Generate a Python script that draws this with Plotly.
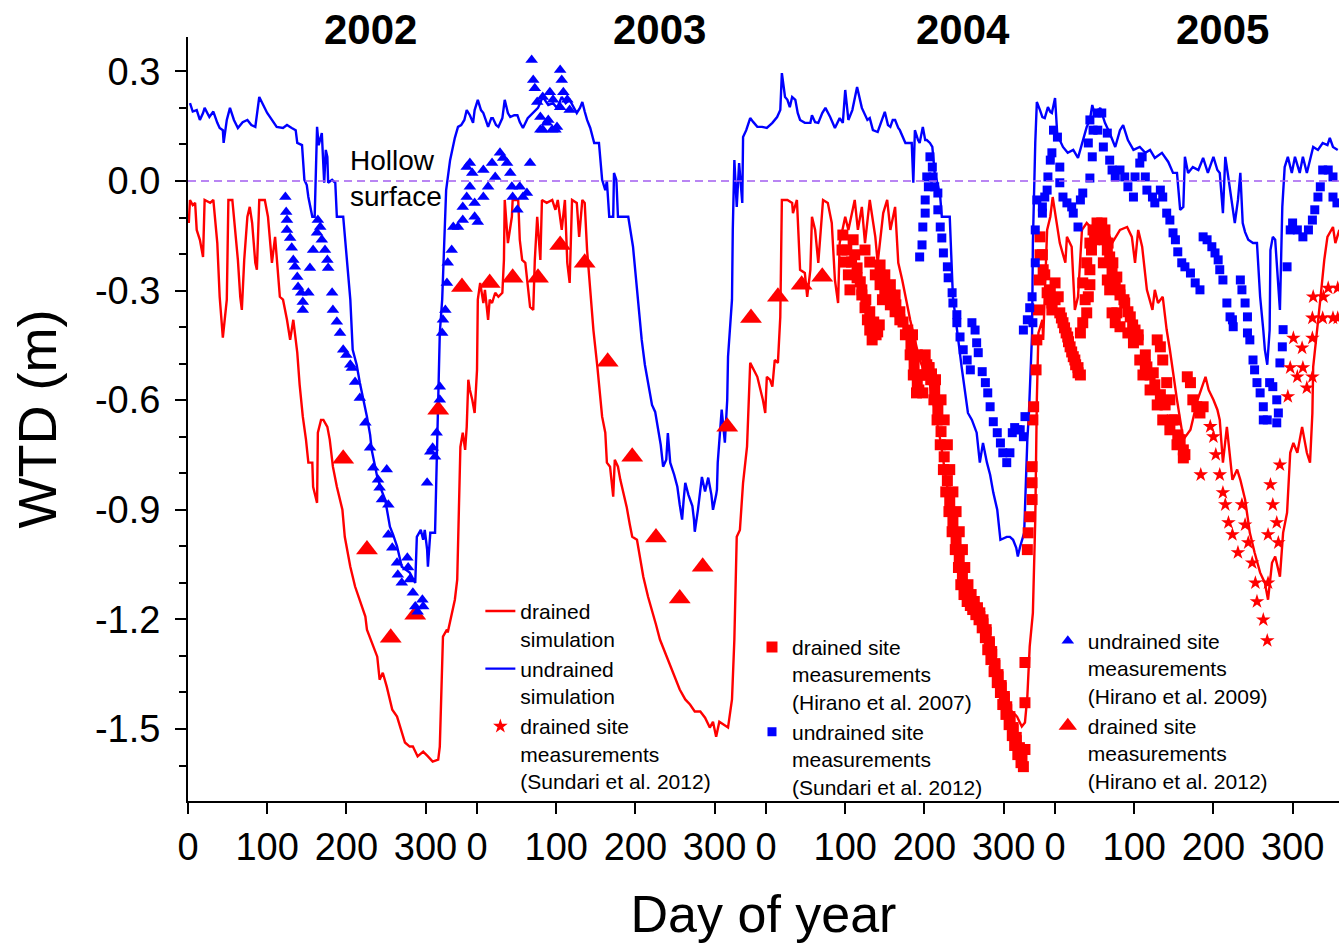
import plotly.graph_objects as go

# ---------------- data (continuous day since 1 Jan 2002, WTD in m) ----------------
year_labels = ["2002", "2003", "2004", "2005"]
year_start_day = [0, 365, 730, 1095]
doy_ticks = [0, 100, 200, 300]
wtd_ticks = [0.3, 0.0, -0.3, -0.6, -0.9, -1.2, -1.5]

undrained_sim = [
    (2.5, 0.213), (6, 0.19), (11, 0.194), (15, 0.167), (19, 0.186), (21, 0.2), (27, 0.175), (32, 0.19),
    (37, 0.159), (40, 0.145), (44, 0.139), (45, 0.104), (49, 0.167), (53, 0.2), (58, 0.167), (63, 0.145),
    (69, 0.161), (75, 0.167), (80, 0.153), (85, 0.148), (90, 0.23), (95, 0.208), (100, 0.186), (106, 0.167),
    (112, 0.148), (120, 0.145), (125, 0.153), (131, 0.145), (136, 0.139), (138, 0.104), (144, 0.098),
    (147, 0.003), (150, -0.011), (152, -0.044), (157, -0.098), (160, -0.098), (163, 0.148), (165, 0.098),
    (167, 0.112), (169, 0.131), (172, -0.005), (174, 0.085), (176, 0.066), (177, -0.005), (182, 0.003),
    (186, -0.005), (188, -0.098), (196, -0.098), (201, -0.224), (205, -0.325), (208, -0.462), (213, -0.503),
    (217, -0.552), (222, -0.599), (226, -0.645), (230, -0.695), (232, -0.736), (239, -0.81), (244, -0.845),
    (249, -0.872), (255, -0.946), (259, -0.968), (264, -1.0), (270, -1.056), (275, -1.064), (280, -1.072),
    (287, -1.1), (289, -0.974), (294, -0.955), (297, -0.982), (299, -0.955), (302, -1.009), (303, -1.056),
    (306, -0.963), (312, -0.963), (314, -0.782), (316, -0.599), (318, -0.416), (321, -0.325), (323, -0.189),
    (326, -0.025), (331, 0.057), (335, 0.104), (337, 0.118), (341, 0.148), (345, 0.153), (349, 0.167),
    (352, 0.194), (356, 0.18), (360, 0.159), (362, 0.194), (366, 0.222),
    (370, 0.194), (373, 0.186), (376, 0.167), (379, 0.148), (383, 0.172), (385, 0.172), (389, 0.153),
    (392, 0.148), (397, 0.172), (400, 0.222), (404, 0.186), (407, 0.175), (412, 0.18), (416, 0.18),
    (419, 0.161), (423, 0.145), (429, 0.172), (436, 0.186), (442, 0.2), (448, 0.23), (455, 0.208),
    (461, 0.213), (466, 0.2), (472, 0.23), (477, 0.213), (482, 0.222), (488, 0.2), (491, 0.186), (495, 0.2),
    (498, 0.216), (501, 0.19), (504, 0.167), (508, 0.145), (510, 0.126), (513, 0.104), (519, 0.104),
    (523, 0.003), (527, -0.025), (529, 0.0), (532, -0.098), (537, -0.098), (538, 0.022), (541, 0.003),
    (543, -0.098), (551, -0.098), (556, -0.098), (562, -0.18), (566, -0.271), (570, -0.353), (573, -0.435),
    (577, -0.503), (581, -0.552), (586, -0.613), (590, -0.632), (594, -0.681), (597, -0.722), (600, -0.782),
    (604, -0.763), (606, -0.69), (609, -0.771), (614, -0.804), (618, -0.837), (621, -0.886), (624, -0.927),
    (626, -0.872), (628, -0.826), (632, -0.859), (634, -0.872), (637, -0.89), (639, -0.927), (640, -0.96),
    (644, -0.9), (649, -0.81), (653, -0.85), (657, -0.812), (661, -0.859), (663, -0.9), (667, -0.859),
    (668, -0.845), (669, -0.771), (672, -0.681), (674, -0.626), (678, -0.716), (681, -0.599), (682, -0.481),
    (685, -0.38), (687, -0.325), (688, -0.134), (690, 0.057), (693, -0.071), (696, 0.049), (700, -0.06),
    (701, 0.12), (705, 0.139), (710, 0.172), (714, 0.161), (719, 0.148), (725, 0.148), (731, 0.145),
    (738, 0.159), (741, 0.167), (744, 0.175), (748, 0.194), (750, 0.295), (754, 0.23), (757, 0.222),
    (760, 0.202), (763, 0.23), (767, 0.222), (770, 0.186), (773, 0.167), (779, 0.159), (786, 0.159),
    (788, 0.18), (792, 0.161), (796, 0.159), (801, 0.186), (805, 0.2), (811, 0.175), (817, 0.145),
    (823, 0.172), (827, 0.159), (830, 0.249), (834, 0.167), (839, 0.194), (845, 0.257), (851, 0.2),
    (855, 0.18), (858, 0.167), (861, 0.172), (865, 0.139), (871, 0.134), (877, 0.172), (880, 0.189),
    (884, 0.153), (887, 0.148), (890, 0.167), (893, 0.167), (897, 0.145), (899, 0.139), (906, 0.104),
    (914, 0.104), (916, -0.005), (918, 0.139), (922, 0.112), (924, 0.104), (928, 0.148), (931, 0.112),
    (933, 0.112), (937, 0.104), (940, 0.093), (943, 0.022), (947, -0.011), (950, -0.044), (952, -0.098),
    (962, -0.098), (966, -0.317), (971, -0.408), (977, -0.509), (981, -0.572), (985, -0.635), (990, -0.654),
    (996, -0.689), (1000, -0.771), (1004, -0.717), (1009, -0.771), (1013, -0.804), (1017, -0.853),
    (1022, -0.9), (1026, -0.982), (1031, -0.976), (1034, -0.974), (1038, -0.974), (1042, -0.982),
    (1046, -1.004), (1048, -1.028), (1051, -1.0), (1056, -0.963), (1060, -0.708), (1062, -0.635),
    (1066, -0.416), (1067, -0.17), (1070, 0.104), (1072, 0.216), (1076, 0.194), (1079, 0.175), (1082, 0.172),
    (1086, 0.202), (1089, 0.189), (1091, 0.186), (1095, 0.227),
    (1098, 0.12), (1101, 0.112), (1105, 0.093), (1111, 0.077), (1118, 0.085), (1124, 0.063), (1130, 0.112),
    (1135, 0.148), (1139, 0.167), (1142, 0.208), (1146, 0.175), (1152, 0.2), (1158, 0.159), (1164, 0.131),
    (1171, 0.093), (1177, 0.139), (1181, 0.153), (1187, 0.112), (1194, 0.085), (1202, 0.093), (1209, 0.077),
    (1215, 0.085), (1221, 0.063), (1230, 0.077), (1238, 0.052), (1244, 0.022), (1249, 0.022), (1253, -0.079),
    (1257, -0.071), (1259, 0.066), (1263, 0.022), (1269, 0.038), (1276, 0.03), (1282, 0.063), (1288, 0.022),
    (1295, 0.066), (1300, 0.03), (1303, 0.022), (1307, -0.088), (1310, 0.066), (1313, 0.022), (1319, -0.079),
    (1322, -0.115), (1326, -0.052), (1329, 0.022), (1332, -0.115), (1335, -0.14), (1339, -0.161),
    (1345, -0.17), (1350, -0.17), (1354, -0.317), (1358, -0.408), (1360, -0.462), (1363, -0.503),
    (1366, -0.408), (1367, -0.189), (1370, -0.153), (1373, -0.161), (1375, -0.224), (1379, -0.353),
    (1382, -0.071), (1385, 0.038), (1389, 0.066), (1394, 0.022), (1398, 0.066), (1404, 0.022), (1408, 0.066),
    (1413, 0.022), (1421, 0.093), (1427, 0.085), (1433, 0.104), (1439, 0.098), (1442, 0.118), (1446, 0.093),
    (1452, 0.085),
]

drained_sim = [
    (0, -0.093), (1, -0.115), (2.5, -0.052), (6, -0.066), (9, -0.06), (11, -0.134), (15, -0.161),
    (19, -0.208), (21, -0.052), (28, -0.06), (32, -0.052), (37, -0.17), (40, -0.317), (44, -0.429),
    (49, -0.325), (51, -0.052), (56, -0.052), (59, -0.115), (63, -0.216), (66, -0.317), (68, -0.353),
    (71, -0.216), (75, -0.098), (78, -0.071), (81, -0.115), (85, -0.224), (87, -0.243), (90, -0.052),
    (97, -0.052), (101, -0.098), (106, -0.224), (110, -0.153), (114, -0.252), (116, -0.317), (120, -0.325),
    (125, -0.38), (129, -0.435), (133, -0.38), (138, -0.47), (141, -0.558), (145, -0.645), (149, -0.708),
    (152, -0.771), (157, -0.771), (158, -0.837), (163, -0.881), (164, -0.689), (168, -0.654), (171, -0.654),
    (176, -0.673), (179, -0.708), (183, -0.782), (188, -0.837), (195, -0.9), (198, -0.974), (205, -1.056),
    (211, -1.11), (217, -1.146), (224, -1.192), (226, -1.228), (232, -1.264), (239, -1.302), (242, -1.365),
    (246, -1.346), (251, -1.384), (258, -1.447), (264, -1.466), (268, -1.493), (274, -1.537), (280, -1.548),
    (284, -1.548), (290, -1.575), (297, -1.562), (303, -1.575), (309, -1.589), (316, -1.584), (318, -1.548),
    (322, -1.247), (327, -1.228), (328, -1.236), (333, -1.182), (337, -1.146), (340, -1.091), (344, -0.728),
    (347, -0.689), (350, -0.736), (352, -0.673), (354, -0.544), (356, -0.572), (359, -0.599), (362, -0.635),
    (365, -0.517), (366, -0.325),
    (369, -0.279), (373, -0.334), (375, -0.298), (379, -0.38), (381, -0.325), (384, -0.334), (388, -0.306),
    (392, -0.317), (397, -0.306), (399, -0.216), (400, -0.052), (404, -0.17), (407, -0.12), (409, -0.098),
    (410, -0.052), (417, -0.052), (419, -0.161), (422, -0.216), (426, -0.224), (432, -0.345), (436, -0.353),
    (438, -0.216), (441, -0.098), (445, -0.216), (447, -0.052), (453, -0.06), (460, -0.052), (464, -0.079),
    (467, -0.052), (472, -0.134), (476, -0.052), (479, -0.224), (482, -0.279), (485, -0.052), (491, -0.06),
    (494, -0.153), (498, -0.052), (501, -0.06), (504, -0.189), (508, -0.298), (512, -0.408), (517, -0.509),
    (520, -0.585), (523, -0.645), (527, -0.689), (529, -0.771), (533, -0.782), (537, -0.864), (539, -0.763),
    (543, -0.782), (546, -0.818), (549, -0.845), (554, -0.892), (558, -0.941), (561, -0.974), (567, -0.982),
    (571, -1.037), (575, -1.083), (581, -1.138), (586, -1.173), (591, -1.214), (596, -1.255), (602, -1.288),
    (609, -1.324), (615, -1.357), (621, -1.392), (628, -1.419), (634, -1.433), (640, -1.452), (647, -1.452),
    (653, -1.469), (659, -1.496), (663, -1.48), (667, -1.521), (671, -1.48), (676, -1.488), (682, -1.496),
    (687, -1.419), (690, -1.255), (693, -0.974), (697, -0.955), (701, -0.826), (706, -0.727), (710, -0.498),
    (714, -0.517), (719, -0.536), (722, -0.563), (726, -0.599), (729, -0.635), (731, -0.536), (735, -0.544),
    (738, -0.563), (741, -0.49), (745, -0.498), (748, -0.372), (750, -0.052), (757, -0.052), (763, -0.06),
    (764, -0.088), (769, -0.052), (773, -0.243), (779, -0.252), (782, -0.317), (786, -0.243), (788, -0.098),
    (792, -0.134), (796, -0.224), (802, -0.052), (808, -0.06), (813, -0.115), (817, -0.271), (821, -0.334),
    (823, -0.17), (830, -0.098), (834, -0.134), (842, -0.052), (846, -0.134), (851, -0.071), (855, -0.17),
    (861, -0.052), (868, -0.153), (871, -0.224), (878, -0.088), (883, -0.052), (887, -0.134), (893, -0.071),
    (897, -0.224), (902, -0.271), (912, -0.38), (924, -0.49), (937, -0.558), (950, -0.708), (962, -0.886),
    (975, -1.064), (988, -1.146), (1000, -1.187), (1013, -1.283), (1026, -1.378), (1038, -1.447),
    (1047, -1.466), (1053, -1.493), (1057, -1.482), (1060, -1.411), (1063, -1.274), (1067, -1.182),
    (1070, -0.927), (1072, -0.599), (1074, -0.416), (1079, -0.38), (1080, -0.435), (1085, -0.134),
    (1089, -0.098), (1092, -0.044),
    (1098, -0.126), (1101, -0.17), (1108, -0.224), (1110, -0.153), (1116, -0.18), (1120, -0.353),
    (1124, -0.317), (1129, -0.134), (1135, -0.115), (1143, -0.134), (1149, -0.17), (1158, -0.115),
    (1167, -0.17), (1177, -0.134), (1186, -0.126), (1192, -0.153), (1196, -0.224), (1200, -0.134),
    (1205, -0.18), (1211, -0.298), (1218, -0.353), (1221, -0.298), (1225, -0.334), (1231, -0.317),
    (1236, -0.408), (1240, -0.462), (1249, -0.599), (1257, -0.708), (1266, -0.681), (1275, -0.599),
    (1285, -0.536), (1289, -0.572), (1295, -0.599), (1300, -0.626), (1303, -0.654), (1307, -0.771),
    (1312, -0.673), (1319, -0.818), (1325, -0.79), (1329, -0.818), (1335, -0.872), (1341, -0.963),
    (1347, -1.017), (1354, -1.072), (1360, -1.1), (1364, -1.146), (1369, -1.045), (1373, -1.028),
    (1379, -1.083), (1383, -0.963), (1388, -0.908), (1392, -0.744), (1396, -0.717), (1401, -0.744),
    (1407, -0.673), (1413, -0.744), (1417, -0.771), (1420, -0.635), (1421, -0.509), (1426, -0.416),
    (1430, -0.325), (1435, -0.216), (1439, -0.153), (1446, -0.126), (1449, -0.17), (1454, -0.134),
]

# drained site measurements, Hirano et al. 2012 (large red triangles)
hirano2012_drained = [
    (196, -0.76), (226, -1.009), (256, -1.25), (287, -1.187), (316, -0.626), (346, -0.29), (381, -0.279),
    (410, -0.265), (442, -0.265), (470, -0.175), (501, -0.224), (530, -0.495), (561, -0.755), (591, -0.976),
    (621, -1.143), (650, -1.056), (681, -0.673), (711, -0.375), (745, -0.317), (775, -0.284), (801, -0.262),
]

# undrained site measurements, Hirano et al. 2009 (blue triangles)
hirano2009_undrained = [
    (123, -0.044), (124, -0.085), (125, -0.107), (125, -0.134), (129, -0.156), (131, -0.183), (133, -0.216),
    (135, -0.235), (138, -0.263), (139, -0.29), (143, -0.306), (145, -0.331), (145, -0.353), (152, -0.306),
    (154, -0.238), (158, -0.189), (163, -0.142), (164, -0.107), (167, -0.126), (169, -0.161), (173, -0.189),
    (176, -0.216), (177, -0.238), (182, -0.306), (183, -0.353), (188, -0.385), (192, -0.416), (196, -0.462),
    (200, -0.476), (205, -0.503), (207, -0.512), (211, -0.55), (217, -0.594), (224, -0.662), (230, -0.73),
    (234, -0.785), (240, -0.818), (242, -0.84), (245, -0.872), (251, -0.79), (253, -0.886), (253, -0.968),
    (258, -1.004), (264, -1.045), (265, -1.078), (270, -1.1), (277, -1.031), (278, -1.058), (280, -1.091),
    (284, -1.127), (287, -1.165), (290, -1.179), (296, -1.146), (297, -1.165), (302, -0.826), (306, -0.741),
    (309, -0.73), (312, -0.755), (314, -0.689), (318, -0.599), (318, -0.563), (321, -0.416), (322, -0.38),
    (325, -0.353), (327, -0.279), (328, -0.224), (333, -0.189), (335, -0.126), (341, -0.126), (347, -0.107),
    (347, -0.071), (352, -0.044), (356, -0.016), (352, 0.038), (356, 0.049), (359, 0.022), (362, -0.06),
    (362, -0.098), (366, -0.112), (373, -0.044), (373, 0.03), (379, -0.016), (384, 0.049), (388, 0.011),
    (394, 0.077), (398, 0.063), (403, 0.049), (407, 0.022), (409, -0.016), (410, -0.044), (416, -0.079),
    (419, -0.016), (423, -0.044), (428, -0.033), (432, 0.049), (434, 0.331), (436, 0.276), (438, 0.254),
    (441, 0.216), (445, 0.175), (445, 0.14), (448, 0.14), (448, 0.23), (453, 0.159), (455, 0.167),
    (457, 0.243), (460, 0.14), (461, 0.222), (464, 0.14), (466, 0.148), (470, 0.202), (470, 0.304),
    (472, 0.276), (474, 0.243), (479, 0.222), (482, 0.194),
]

# drained site measurements, Hirano et al. 2007 (red squares)
hirano2007_drained = [
    (826, -0.189), (830, -0.222), (834, -0.257), (836, -0.298), (840, -0.161), (842, -0.202), (845, -0.238),
    (849, -0.276), (851, -0.312), (855, -0.347), (858, -0.38), (861, -0.408), (864, -0.435), (869, -0.421),
    (873, -0.394), (855, -0.189), (861, -0.222), (868, -0.257), (874, -0.284), (880, -0.312), (887, -0.339),
    (893, -0.358), (899, -0.38), (906, -0.421), (874, -0.23), (880, -0.257), (887, -0.284), (893, -0.312),
    (827, -0.148), (832, -0.189), (838, -0.222), (845, -0.265), (851, -0.298), (856, -0.325), (861, -0.358),
    (866, -0.386), (871, -0.413), (877, -0.325), (882, -0.298), (887, -0.312), (894, -0.339), (899, -0.358),
    (903, -0.386), (909, -0.408),
    (912, -0.476), (916, -0.531), (920, -0.58), (923, -0.572), (927, -0.531), (931, -0.476), (935, -0.511),
    (938, -0.544), (942, -0.599), (946, -0.654), (950, -0.722), (954, -0.79), (957, -0.851), (961, -0.905),
    (965, -0.96), (969, -1.009), (973, -1.058), (976, -1.105), (980, -1.132), (984, -1.151), (988, -1.162),
    (991, -1.173), (995, -1.187), (999, -1.201), (1003, -1.223), (1007, -1.25), (1010, -1.283),
    (1014, -1.31), (1018, -1.343), (1022, -1.373), (1026, -1.4), (1029, -1.433), (1033, -1.46),
    (1037, -1.488), (1041, -1.518), (1044, -1.545), (1048, -1.57), (1052, -1.592), (1055, -1.603),
    (915, -0.421), (921, -0.476), (924, -0.531), (928, -0.58), (932, -0.531), (936, -0.511), (944, -0.544),
    (951, -0.599), (955, -0.654), (959, -0.722), (962, -0.79), (966, -0.851), (970, -0.905), (974, -0.96),
    (978, -1.009), (981, -1.058), (985, -1.105), (989, -1.132), (993, -1.151), (997, -1.168), (1000, -1.182),
    (1004, -1.201), (1008, -1.228), (1012, -1.261), (1015, -1.288), (1019, -1.321), (1023, -1.351),
    (1027, -1.381), (1031, -1.411), (1034, -1.439), (1038, -1.466), (1042, -1.496), (1046, -1.523),
    (1050, -1.551), (1053, -1.575), (1057, -1.556),
    (913, -0.449), (917, -0.503), (921, -0.555), (933, -0.503), (939, -0.528), (943, -0.572), (947, -0.626),
    (951, -0.686), (955, -0.755), (959, -0.82), (962, -0.878), (966, -0.933), (970, -0.985), (974, -1.034),
    (978, -1.08), (981, -1.119), (985, -1.14), (989, -1.157), (993, -1.168), (997, -1.179), (1000, -1.192),
    (1004, -1.212), (1008, -1.236), (1012, -1.266), (1015, -1.296), (1019, -1.326), (1023, -1.357),
    (1027, -1.387), (1031, -1.417), (1034, -1.447), (1038, -1.474), (1042, -1.502), (1046, -1.532),
    (1050, -1.556), (1053, -1.584),
    (1057, -1.428), (1057, -1.318), (1060, -1.009),
    (1061, -0.963), (1063, -0.919), (1066, -0.872), (1066, -0.826), (1066, -0.782), (1067, -0.654),
    (1068, -0.618), (1071, -0.517), (1072, -0.435), (1074, -0.353), (1075, -0.271), (1076, -0.202),
    (1076, -0.153),
    (1080, -0.243), (1085, -0.306), (1089, -0.325), (1091, -0.334), (1095, -0.279), (1099, -0.317),
    (1101, -0.361), (1105, -0.388), (1109, -0.416), (1111, -0.427), (1114, -0.454), (1118, -0.481),
    (1121, -0.503), (1124, -0.525), (1127, -0.416), (1130, -0.388), (1130, -0.279), (1135, -0.224),
    (1139, -0.17), (1143, -0.134), (1148, -0.115), (1154, -0.115), (1158, -0.134), (1162, -0.17),
    (1164, -0.208), (1168, -0.224), (1173, -0.263), (1177, -0.298), (1183, -0.334), (1190, -0.372),
    (1196, -0.408), (1137, -0.317), (1135, -0.361), (1139, -0.243), (1156, -0.224), (1161, -0.271),
    (1164, -0.298), (1167, -0.361), (1171, -0.388), (1173, -0.361), (1177, -0.399), (1187, -0.416),
    (1194, -0.443), (1200, -0.435), (1202, -0.49), (1209, -0.476), (1211, -0.509), (1219, -0.525),
    (1224, -0.435), (1228, -0.454), (1231, -0.49), (1236, -0.552), (1240, -0.599), (1246, -0.654),
    (1253, -0.708), (1257, -0.736), (1206, -0.531), (1215, -0.572), (1224, -0.613), (1231, -0.654),
    (1240, -0.681), (1249, -0.722), (1257, -0.758), (1262, -0.536), (1266, -0.552), (1269, -0.599),
    (1274, -0.618), (1278, -0.635), (1282, -0.618),
    (1079, -0.202), (1082, -0.257), (1089, -0.298), (1091, -0.353), (1095, -0.325), (1103, -0.375),
    (1107, -0.402), (1112, -0.44), (1116, -0.468), (1120, -0.49), (1124, -0.511), (1127, -0.531),
    (1133, -0.325), (1139, -0.284), (1141, -0.189), (1145, -0.161), (1152, -0.134), (1157, -0.161),
    (1161, -0.189), (1167, -0.243), (1171, -0.284), (1177, -0.312), (1182, -0.325), (1187, -0.358),
    (1193, -0.394), (1200, -0.421), (1209, -0.503), (1215, -0.531), (1221, -0.558), (1228, -0.585),
    (1234, -0.613), (1243, -0.654), (1250, -0.695), (1259, -0.749),
]

# undrained site measurements, Sundari et al. 2012 (blue squares)
sundari_undrained = [
    (924, -0.208), (927, -0.175), (928, -0.126), (931, -0.088), (931, -0.052), (935, -0.016), (933, 0.011),
    (937, 0.066), (940, 0.038), (941, 0.011), (943, -0.016), (947, -0.033), (947, -0.079), (950, -0.126),
    (952, -0.156), (954, -0.197), (959, -0.235), (960, -0.265), (965, -0.306), (966, -0.334), (971, -0.366),
    (971, -0.388), (975, -0.427), (979, -0.462), (984, -0.49), (988, -0.517), (990, -0.388), (994, -0.408),
    (996, -0.443), (998, -0.47), (1003, -0.522), (1007, -0.552), (1010, -0.58), (1013, -0.618),
    (1017, -0.659), (1022, -0.689), (1026, -0.717), (1029, -0.744), (1034, -0.771), (1038, -0.744),
    (1041, -0.689), (1044, -0.675), (1048, -0.681), (1051, -0.681), (1055, -0.7), (1057, -0.645),
    (1055, -0.408), (1060, -0.38), (1063, -0.347), (1067, -0.388), (1066, -0.317), (1070, -0.224),
    (1070, -0.134), (1072, -0.052), (1079, -0.071), (1079, -0.088), (1082, -0.044), (1085, -0.025),
    (1086, 0.011), (1089, 0.057), (1091, 0.077), (1093, 0.139), (1098, 0.12), (1101, 0.038), (1101, -0.005),
    (1105, -0.044), (1110, -0.06), (1116, -0.071), (1118, -0.088), (1124, -0.126), (1127, -0.052),
    (1130, -0.033), (1139, 0.008), (1142, 0.066), (1137, 0.104), (1139, 0.167), (1143, 0.139), (1148, 0.186),
    (1154, 0.186), (1149, 0.139), (1156, 0.093), (1161, 0.131), (1164, 0.057), (1167, 0.03), (1171, 0.011),
    (1177, 0.03), (1183, 0.011), (1187, -0.016), (1194, -0.044), (1196, 0.011), (1202, 0.049), (1205, 0.066),
    (1209, 0.011), (1211, -0.025), (1218, -0.044), (1221, -0.06), (1228, -0.025), (1231, -0.044),
    (1236, -0.088), (1240, -0.107), (1244, -0.142), (1247, -0.161), (1250, -0.194), (1255, -0.224),
    (1259, -0.235), (1266, -0.252), (1272, -0.279), (1278, -0.298), (1282, -0.153), (1287, -0.161),
    (1293, -0.18), (1297, -0.197), (1301, -0.216), (1303, -0.243), (1307, -0.271), (1312, -0.334),
    (1316, -0.372), (1319, -0.38), (1320, -0.399), (1329, -0.271), (1331, -0.298), (1335, -0.334),
    (1338, -0.372), (1338, -0.416), (1341, -0.435), (1345, -0.49), (1347, -0.517), (1350, -0.552),
    (1354, -0.58), (1358, -0.618), (1358, -0.654), (1363, -0.654), (1366, -0.552), (1370, -0.563),
    (1375, -0.599), (1377, -0.635), (1375, -0.662), (1379, -0.498), (1382, -0.454), (1383, -0.407),
    (1388, -0.235), (1392, -0.134), (1395, -0.115), (1401, -0.134), (1408, -0.153), (1415, -0.134),
    (1420, -0.107), (1423, -0.079), (1427, -0.044), (1430, -0.016), (1433, 0.03), (1440, 0.03),
    (1446, 0.011), (1446, -0.044), (1451, -0.06),
]

# drained site measurements, Sundari et al. 2012 (red stars)
sundari_drained = [
    (1279, -0.804), (1291, -0.672), (1295, -0.7), (1298, -0.749), (1303, -0.804), (1307, -0.853),
    (1310, -0.886), (1314, -0.935), (1319, -0.968), (1326, -1.017), (1331, -0.886), (1335, -0.941),
    (1339, -0.99), (1344, -1.045), (1348, -1.1), (1350, -1.151), (1358, -1.201), (1363, -1.258),
    (1364, -1.1), (1364, -0.968), (1367, -0.831), (1370, -0.886), (1375, -0.935), (1377, -0.99),
    (1379, -0.777), (1389, -0.59), (1392, -0.511), (1396, -0.43), (1401, -0.536), (1407, -0.457),
    (1408, -0.511), (1413, -0.566), (1420, -0.536), (1420, -0.43), (1420, -0.375), (1421, -0.317),
    (1433, -0.375), (1434, -0.317), (1440, -0.293), (1446, -0.375), (1452, -0.375), (1452, -0.293),
]


def xs(series):
    return [p[0] for p in series]


def ys(series):
    return [p[1] for p in series]


RED = "#ff0000"
BLUE = "#0000ff"
FONT = "Liberation Sans, Arial, sans-serif"

fig = go.Figure()

fig.add_trace(go.Scatter(x=xs(drained_sim), y=ys(drained_sim), mode="lines",
                         line=dict(color=RED, width=2.4), name="drained<br>simulation",
                         legend="legend", legendrank=1))
fig.add_trace(go.Scatter(x=xs(undrained_sim), y=ys(undrained_sim), mode="lines",
                         line=dict(color=BLUE, width=2.4), name="undrained<br>simulation",
                         legend="legend", legendrank=2))
fig.add_trace(go.Scatter(x=xs(hirano2012_drained), y=ys(hirano2012_drained), mode="markers",
                         marker=dict(symbol="triangle-up", size=19, color=RED),
                         name="drained site<br>measurements<br>(Hirano et al. 2012)",
                         legend="legend3", legendrank=2))
fig.add_trace(go.Scatter(x=xs(hirano2007_drained), y=ys(hirano2007_drained), mode="markers",
                         marker=dict(symbol="square", size=11, color=RED),
                         name="drained site<br>measurements<br>(Hirano et al. 2007)",
                         legend="legend2", legendrank=1))
fig.add_trace(go.Scatter(x=xs(sundari_undrained), y=ys(sundari_undrained), mode="markers",
                         marker=dict(symbol="square", size=9, color=BLUE),
                         name="undrained site<br>measurements<br>(Sundari et al. 2012)",
                         legend="legend2", legendrank=2))
fig.add_trace(go.Scatter(x=xs(sundari_drained), y=ys(sundari_drained), mode="markers",
                         marker=dict(symbol="star", size=11, color=RED),
                         name="drained site<br>measurements<br>(Sundari et al. 2012)",
                         legend="legend", legendrank=3))
fig.add_trace(go.Scatter(x=xs(hirano2009_undrained), y=ys(hirano2009_undrained), mode="markers",
                         marker=dict(symbol="triangle-up", size=11, color=BLUE),
                         name="undrained site<br>measurements<br>(Hirano et al. 2009)",
                         legend="legend3", legendrank=1))

# hollow surface reference line
fig.add_hline(y=0, line=dict(color="#a25ef0", width=1.5, dash="8px,5px"))

tickvals = [s + d for s in year_start_day for d in doy_ticks]
ticktext = [str(d) for s in year_start_day for d in doy_ticks]

legend_common = dict(bgcolor="rgba(0,0,0,0)", font=dict(family=FONT, size=21, color="black"),
                     valign="top", xanchor="left", yanchor="top", tracegroupgap=0)

fig.update_layout(
    width=1339, height=944,
    margin=dict(l=188, r=0, t=37, b=143, autoexpand=False),
    paper_bgcolor="white", plot_bgcolor="white",
    font=dict(family=FONT, color="black"),
    showlegend=True,
    legend=dict(x=0.254, y=0.275, **legend_common),
    legend2=dict(x=0.49, y=0.228, **legend_common),
    legend3=dict(x=0.747, y=0.236, **legend_common),
    xaxis=dict(range=[0, 1453.6], tickmode="array", tickvals=tickvals, ticktext=ticktext,
               tickangle=0, ticks="outside", ticklen=11, tickwidth=2, tickcolor="black",
               showline=True, linewidth=2, linecolor="black", showgrid=False, zeroline=False,
               tickfont=dict(family=FONT, size=38, color="black"), ticklabelstandoff=0,
               title=dict(text="Day of year", font=dict(family=FONT, size=52, color="black"), standoff=29)),
    yaxis=dict(range=[-1.697, 0.394], tickmode="array", tickvals=wtd_ticks,
               ticktext=["%.1f" % v if v != 0 else "0.0" for v in wtd_ticks],
               ticks="outside", ticklen=11, tickwidth=2, tickcolor="black",
               minor=dict(tickmode="linear", tick0=0, dtick=0.1, ticks="outside", ticklen=7,
                          tickwidth=2, tickcolor="black", showgrid=False),
               showline=True, linewidth=2, linecolor="black", showgrid=False, zeroline=False,
               tickfont=dict(family=FONT, size=38, color="black"), ticklabelstandoff=7,
               title=dict(text="WTD (m)", font=dict(family=FONT, size=54, color="black"), standoff=21)),
)

year_label_x = [230, 596, 979, 1306]
for lab, xv in zip(year_labels, year_label_x):
    fig.add_annotation(x=xv, y=1.01, xref="x", yref="paper", text="<b>%s</b>" % lab, showarrow=False,
                       font=dict(family=FONT, size=42, color="black"), xanchor="center", yanchor="middle")

fig.add_annotation(x=202, y=0.008, xref="x", yref="y", text="Hollow<br>surface", showarrow=False,
                   align="left", xanchor="left", yanchor="middle",
                   font=dict(family=FONT, size=28, color="black"))

fig.write_html("out.html")
